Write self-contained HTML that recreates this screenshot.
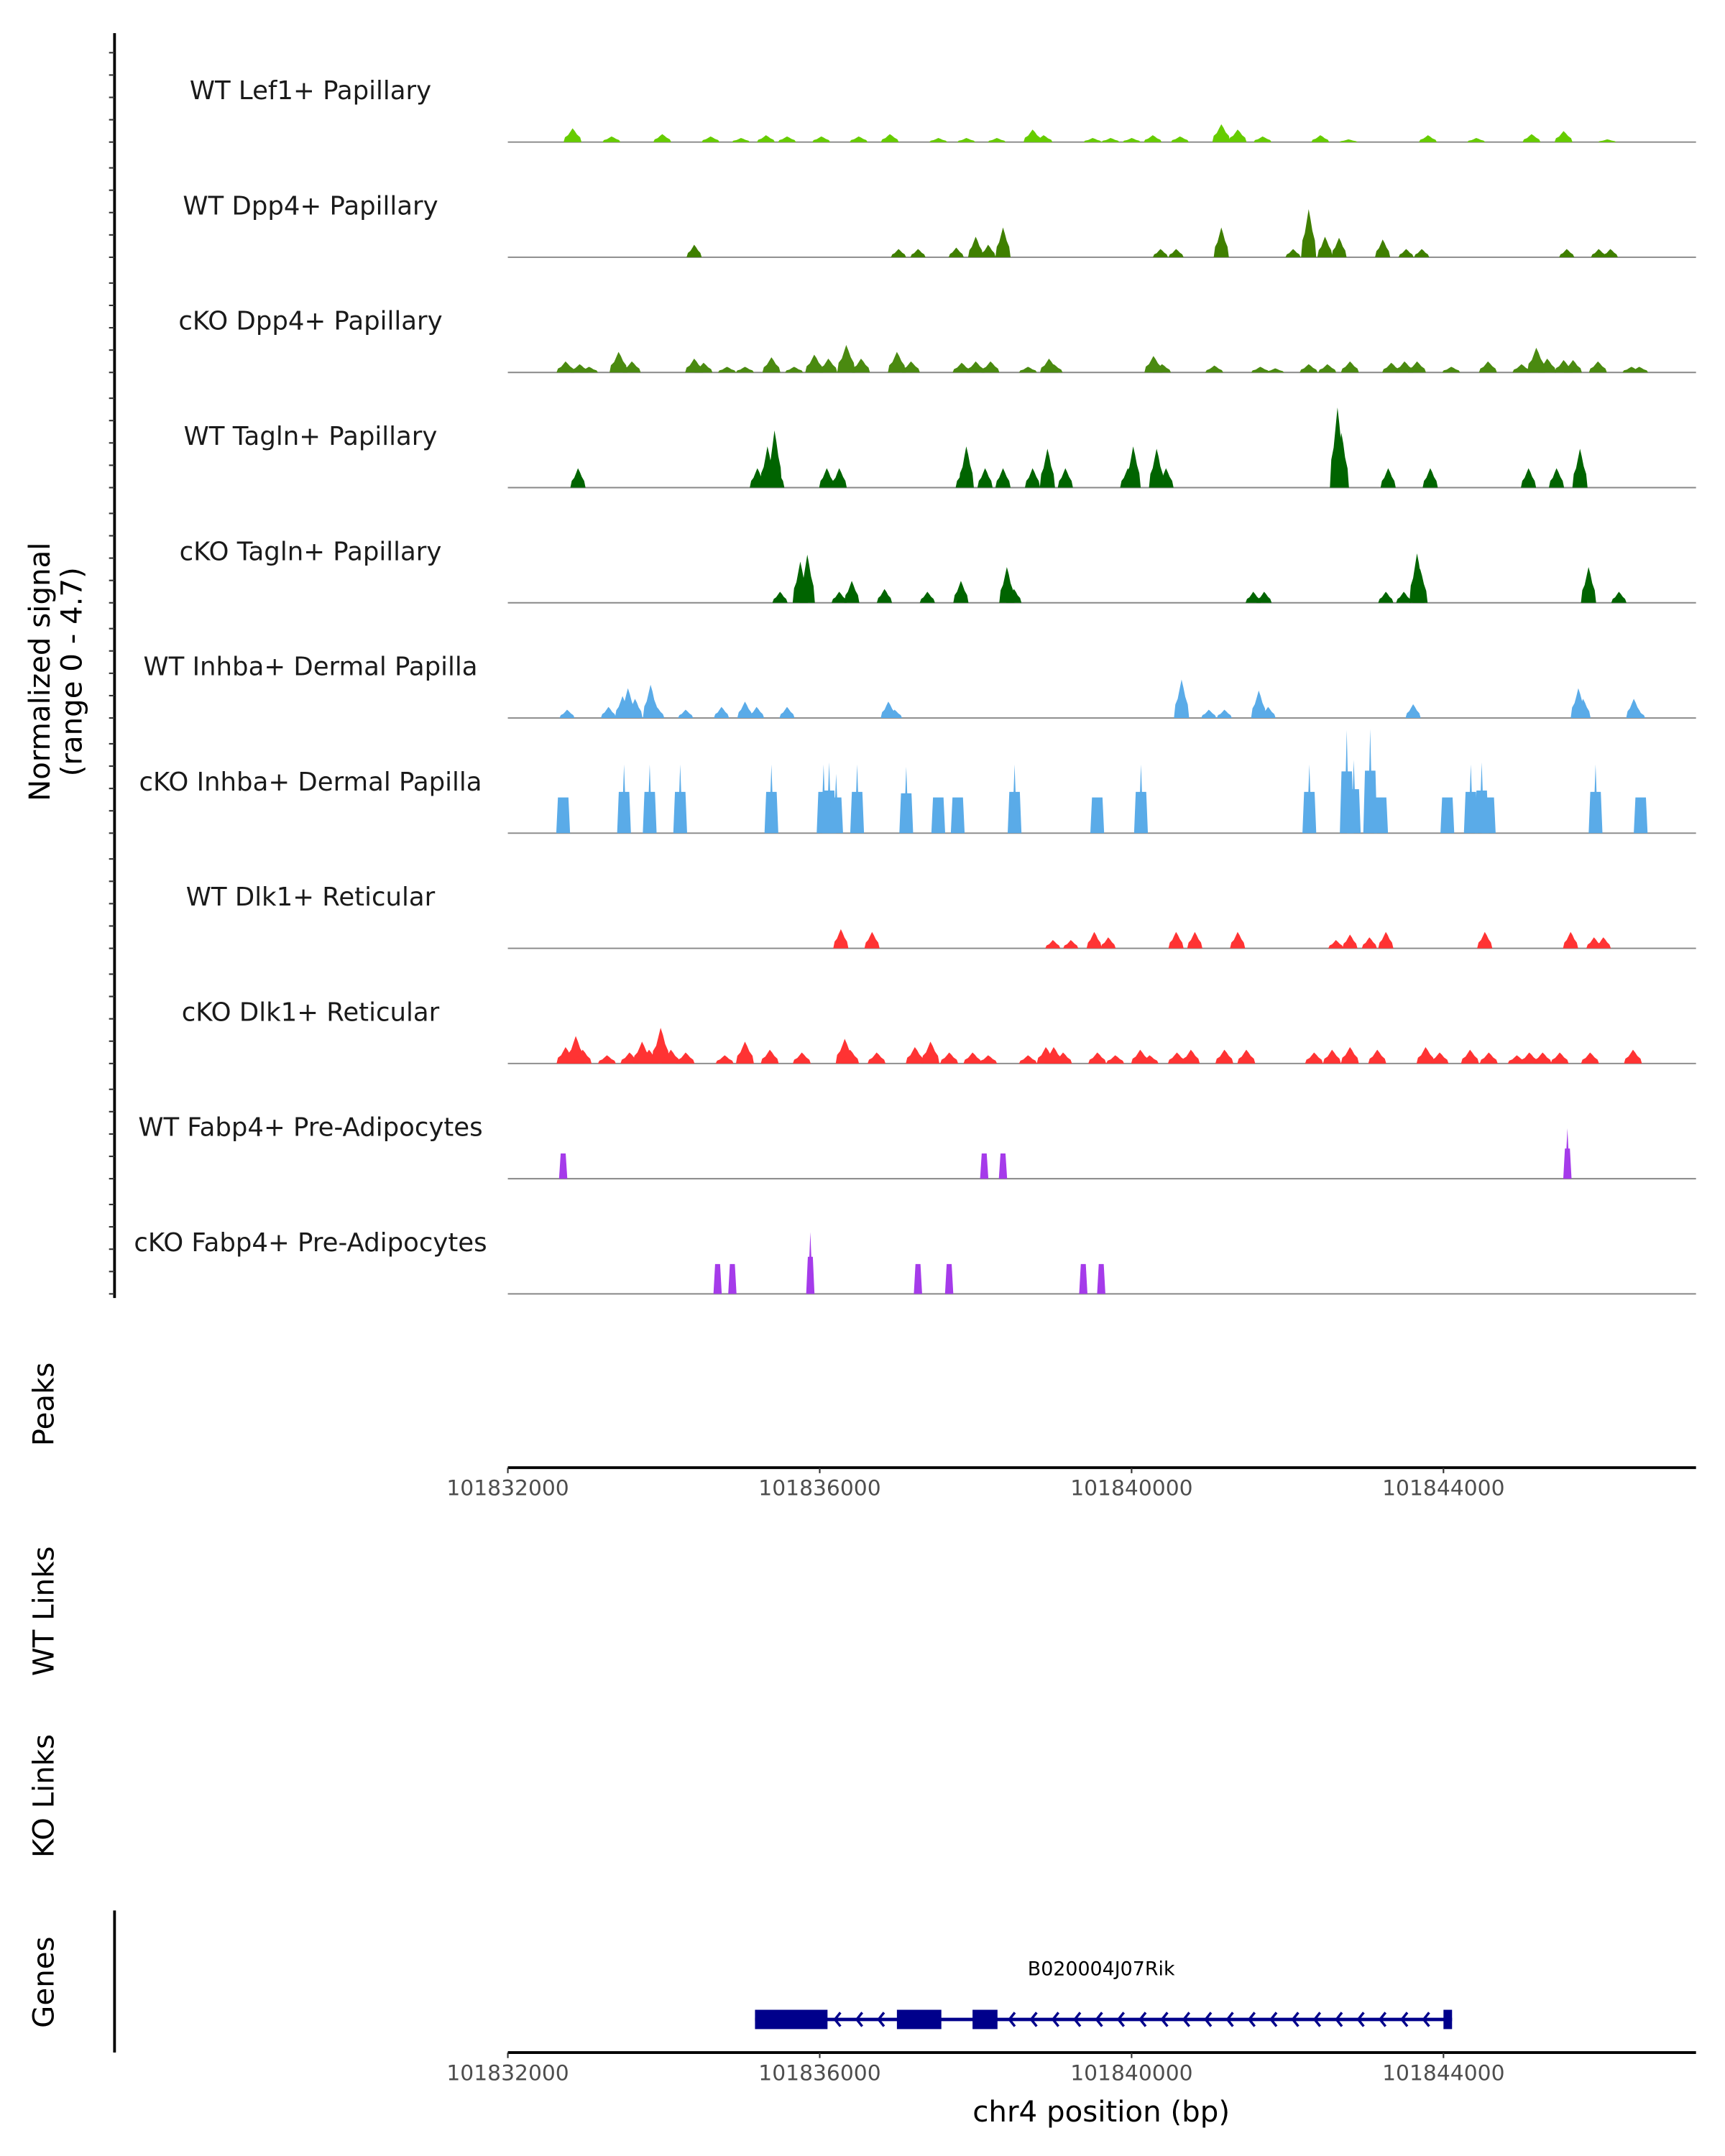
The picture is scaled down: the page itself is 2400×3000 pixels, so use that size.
<!DOCTYPE html>
<html><head><meta charset="utf-8"><style>
html,body{margin:0;padding:0;background:#fff}
svg{display:block}
text{font-family:"DejaVu Sans","Liberation Sans",sans-serif}
</style></head><body>
<svg id="chart" width="2400" height="3000" viewBox="0 0 1250 1563" preserveAspectRatio="none" xmlns="http://www.w3.org/2000/svg"></svg>
<script>
// ---- data (kb offset from 101832000, value in signal units 0-4.7) ----
const trackNames = ["WT Lef1+ Papillary","WT Dpp4+ Papillary","cKO Dpp4+ Papillary","WT Tagln+ Papillary","cKO Tagln+ Papillary","WT Inhba+ Dermal Papilla","cKO Inhba+ Dermal Papilla","WT Dlk1+ Reticular","cKO Dlk1+ Reticular","WT Fabp4+ Pre-Adipocytes","cKO Fabp4+ Pre-Adipocytes"];
const trackColors = ["#66cc00","#3f7f00","#4a8a10","#006400","#006400","#5aabe8","#5aabe8","#ff3333","#ff3333","#a53bea","#a53bea"];
const lefPos=[0.83,1.33,1.98,2.6,2.99,3.31,3.58,4.02,4.5,4.9,5.52,5.88,6.27,6.73,6.87,7.5,7.73,8.0,8.27,8.62,9.15,9.36,9.68,10.42,10.78,11.8,12.42,13.13,13.54,14.1];
const lefVal=[0.6,0.25,0.35,0.25,0.18,0.3,0.25,0.25,0.25,0.35,0.18,0.18,0.18,0.55,0.3,0.18,0.18,0.18,0.3,0.25,0.78,0.55,0.25,0.3,0.12,0.3,0.18,0.35,0.48,0.12];
const dppPos=[2.39,5.01,5.26,5.75,6.0,6.16,6.35,8.37,8.57,9.15,10.07,10.27,10.48,10.66,11.22,11.52,11.72,13.58,13.99,14.14];
const dppVal=[0.55,0.36,0.36,0.42,0.9,0.55,1.3,0.36,0.36,1.3,0.36,2.1,0.9,0.85,0.78,0.36,0.36,0.36,0.36,0.36];
const ckDppPos=[0.74,0.92,1.04,1.42,1.59,2.39,2.51,2.81,3.04,3.38,3.67,3.93,4.11,4.34,4.53,4.99,5.17,5.82,6.0,6.19,6.67,6.94,7.0,8.28,8.39,9.06,9.65,9.84,10.27,10.51,10.8,11.33,11.5,11.66,12.1,12.57,13.0,13.19,13.33,13.54,13.66,13.98,14.41,14.51];
const ckDppVal=[0.48,0.36,0.25,0.9,0.48,0.6,0.42,0.25,0.25,0.66,0.25,0.78,0.6,1.2,0.6,0.9,0.48,0.42,0.48,0.48,0.25,0.6,0.36,0.72,0.36,0.3,0.25,0.18,0.36,0.36,0.48,0.42,0.48,0.48,0.25,0.48,0.36,1.08,0.6,0.54,0.54,0.48,0.25,0.25];
const tagPos=[0.9,3.2,3.33,3.42,3.45,4.09,4.25,5.84,5.88,6.12,6.35,6.73,6.92,7.15,7.95,8.02,8.32,8.44,10.64,10.69,11.29,11.83,13.09,13.45,13.75];
const tagVal=[0.85,0.85,1.8,2.5,0.85,0.85,0.85,0.85,1.8,0.85,0.85,0.85,1.7,0.85,0.85,1.8,1.7,0.85,3.5,2.4,0.85,0.85,0.85,0.85,1.7];
const ckTagPos=[3.49,3.75,3.84,4.25,4.41,4.83,5.38,5.81,6.4,6.49,9.56,9.7,11.26,11.49,11.66,11.7,13.86,14.25];
const ckTagVal=[0.48,1.8,2.1,0.48,0.96,0.6,0.48,0.96,1.56,0.6,0.48,0.48,0.48,0.48,2.16,1.5,1.56,0.48];
const inhPos=[0.76,1.29,1.47,1.54,1.63,1.83,1.91,2.28,2.74,3.04,3.19,3.58,4.88,4.96,8.64,8.99,9.19,9.63,9.75,11.61,13.73,13.79,14.44,14.49];
const inhVal=[0.36,0.48,0.96,1.3,0.84,1.45,0.48,0.36,0.48,0.72,0.48,0.48,0.72,0.36,1.68,0.36,0.36,1.2,0.48,0.6,1.3,0.84,0.84,0.36];
const ckInhPos=[0.71,1.49,1.82,2.21,3.38,4.05,4.12,4.21,4.48,5.11,5.52,5.77,6.5,7.56,8.12,10.28,10.76,10.85,11.06,11.2,12.05,12.35,12.49,12.58,13.95,14.53];
const ckInhVal=[1.56,3.0,3.0,3.0,3.0,3.0,3.1,2.6,3.0,2.9,1.56,1.56,3.0,1.56,3.0,3.0,4.5,3.2,4.55,1.56,1.56,3.0,3.1,1.56,3.0,1.56];
const dlkPos=[4.27,4.67,6.99,7.22,7.52,7.7,8.57,8.81,9.36,10.62,10.8,11.05,11.26,12.53,13.63,13.93,14.05];
const dlkVal=[0.84,0.72,0.36,0.36,0.72,0.48,0.72,0.72,0.72,0.36,0.6,0.48,0.72,0.72,0.72,0.48,0.48];
const ckDlkPos=[0.74,0.87,0.96,1.27,1.56,1.72,1.81,1.96,2.09,2.28,2.78,3.04,3.36,3.77,4.32,4.39,4.73,5.22,5.42,5.66,5.96,6.16,6.67,6.9,7.0,7.12,7.56,7.79,8.11,8.23,8.58,8.76,9.19,9.47,10.34,10.57,10.8,11.15,11.77,11.95,12.34,12.58,12.94,13.1,13.27,13.49,13.88,14.43];
const ckDlkVal=[0.72,1.2,0.6,0.36,0.48,0.96,0.6,1.56,0.6,0.48,0.36,0.96,0.6,0.48,1.08,0.6,0.48,0.72,0.96,0.48,0.48,0.36,0.36,0.72,0.72,0.48,0.48,0.36,0.6,0.36,0.48,0.6,0.6,0.6,0.48,0.6,0.72,0.6,0.72,0.48,0.6,0.48,0.36,0.48,0.48,0.48,0.48,0.6];
const fabPos=[0.71,6.11,6.35,13.59];
const fabVal=[1.1,1.1,1.1,2.2];
const ckFabPos=[2.69,2.88,3.88,5.26,5.66,7.38,7.61];
const ckFabVal=[1.3,1.3,2.7,1.3,1.3,1.3,1.3];
const trackPos=[lefPos,dppPos,ckDppPos,tagPos,ckTagPos,inhPos,ckInhPos,dlkPos,ckDlkPos,fabPos,ckFabPos];
const trackVal=[lefVal,dppVal,ckDppVal,tagVal,ckTagVal,inhVal,ckInhVal,dlkVal,ckDlkVal,fabVal,ckFabVal];
const xTickLabels=["101832000","101836000","101840000","101844000"];
const xTickVals=[101832000,101836000,101840000,101844000];
const yMax=4.7;
const exonStarts=[101835170,101836990,101837960,101844000];
const exonEnds=[101836100,101837560,101838280,101844110];
const geneStart=101835170, geneEnd=101844110;

// ---- scales ----
const X0=368, X1=1229, BP0=101832000, BP1=101832000+861/226*4000;
const xs=bp=>X0+(bp-BP0)/(BP1-BP0)*(X1-X0);
const xk=kb=>xs(BP0+kb*1000);
const base0=103, trackH=83.5, hPx=78;
const ys=(i,v)=>base0+i*trackH - v/yMax*hPx;

const svg=document.getElementById('chart');
const NS="http://www.w3.org/2000/svg";
function mk(tag,attrs,parent){const e=document.createElementNS(NS,tag);for(const k in attrs)e.setAttribute(k,attrs[k]);(parent||svg).appendChild(e);return e;}

// left signal axis
const ax=mk('line',{x1:83,y1:24,x2:83,y2:941,stroke:'#000','stroke-width':2});


for(let i=0;i<11;i++){
  for(let k=0;k<5;k++){
    const y=base0+i*trackH-k*16.2;
    const t=mk('line',{x1:79,y1:y,x2:83,y2:y,stroke:'#333','stroke-width':1.1});
    
    
  }
}
const yt=mk('text',{x:0,y:0,transform:'translate(40,487) rotate(-90)','text-anchor':'middle','font-size':21,fill:'#000'});


mk('tspan',{x:0,dy:-4},yt).textContent='Normalized signal';
mk('tspan',{x:0,dy:23},yt).textContent='(range 0 - 4.7)';

// tracks
for(let i=0;i<11;i++){
  const g=mk('g',{});
  
  
  const base=base0+i*trackH;
  const lb=mk('text',{x:225,y:base-31,'text-anchor':'middle','font-size':18.5,fill:'#1a1a1a'},g);
  
  
  lb.textContent=trackNames[i];
  const bl=mk('line',{x1:368,y1:base,x2:1229,y2:base,stroke:'#888','stroke-width':1},g);
  
  
  const pos=trackPos[i], val=trackVal[i];
  const narrow=(i===6||i>=9);
  for(let j=0;j<pos.length;j++){
    const c=xk(pos[j]), top=ys(i,val[j]);
    const h=base-top;
    let pts;
    if(narrow){
      const w=i===6?10:6;
      if(val[j]<2){pts=[[c-w/2,base],[c-w/2+1.2,top],[c+w/2-1.2,top],[c+w/2,base]];}
      else pts=[[c-w/2,base],[c-w/2+1.2,base-h*0.6],[c-0.7,base-h*0.6],[c,top],[c+0.7,base-h*0.6],[c+w/2-1.2,base-h*0.6],[c+w/2,base]];
    } else {
      const w=(i===0||i===2||i===8)?13:11;
      pts=[[c-w/2,base],[c-w/2+1,base-h*0.35],[c-w/4,base-h*0.5],[c-w/8,base-h*0.75],[c,top],[c+w/8,base-h*0.8],[c+w/4,base-h*0.55],[c+w/2-1,base-h*0.35],[c+w/2,base]];
    }
    const p=mk('polygon',{points:pts.map(q=>q[0].toFixed(1)+','+q[1].toFixed(1)).join(' '),fill:trackColors[i]},g);
    
    
  }
}

// side titles
const sideTitles=[["Peaks",1018],["WT Links",1168],["KO Links",1302],["Genes",1437]];
for(const [t,y] of sideTitles){
  const e=mk('text',{x:0,y:0,transform:`translate(33,${y}) rotate(-90)`,'text-anchor':'middle','font-size':21,fill:'#000','dominant-baseline':'middle'});
  
  
  e.textContent=t;
}

// x axes
function xAxis(y,name){
  const g=mk('g',{});
  
  
  mk('line',{x1:368,y1:y,x2:1229,y2:y,stroke:'#000','stroke-width':2},g);
  for(let k=0;k<xTickVals.length;k++){
    const x=xs(xTickVals[k]);
    mk('line',{x1:x,y1:y,x2:x,y2:y+4,stroke:'#333','stroke-width':1.1},g);
    const t=mk('text',{x:x,y:y+20,'text-anchor':'middle','font-size':15.5,fill:'#4d4d4d'},g);
    
    
    t.textContent=xTickLabels[k];
  }
}
xAxis(1064,'peaks-x-axis');
xAxis(1488,'genes-x-axis');
const xt=mk('text',{x:798,y:1538,'text-anchor':'middle','font-size':21,fill:'#000'});


xt.textContent='chr4 position (bp)';

// genes
const ga=mk('line',{x1:83,y1:1385,x2:83,y2:1488,stroke:'#000','stroke-width':2});


const gg=mk('g',{});


const gy=1464;
mk('line',{x1:xs(geneStart),y1:gy,x2:xs(geneEnd),y2:gy,stroke:'#00008b','stroke-width':2.5},gg);
for(let x=xs(geneStart)+12;x<xs(geneEnd)-5;x+=15.8){
  let inside=false;
  for(let k=0;k<exonStarts.length;k++) if(x>xs(exonStarts[k])-4&&x<xs(exonEnds[k])+4) inside=true;
  if(inside) continue;
  mk('polyline',{points:`${x+2.5},${gy-5} ${x-1.5},${gy} ${x+2.5},${gy+5}`,fill:'none',stroke:'#00008b','stroke-width':1.8},gg);
}
for(let k=0;k<exonStarts.length;k++){
  const x1=xs(exonStarts[k]), x2=Math.max(xs(exonEnds[k]),x1+4);
  const r=mk('rect',{x:x1,y:gy-7,width:x2-x1,height:14,fill:'#00008b'},gg);
  
  
}
const gl=mk('text',{x:798,y:1432,'text-anchor':'middle','font-size':14,fill:'#000'});


gl.textContent='B020004J07Rik';
</script>
</body></html>
